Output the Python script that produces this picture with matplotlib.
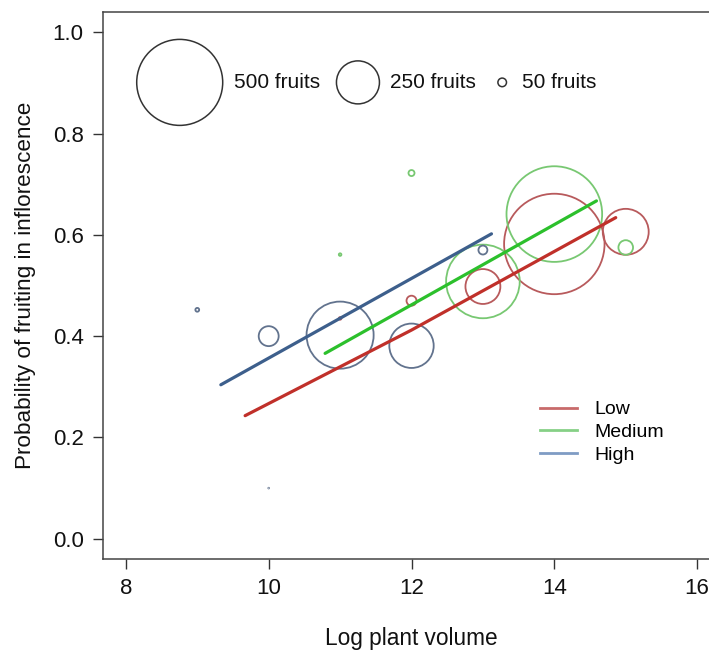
import matplotlib.pyplot as plt
import numpy as np

plt.rcParams['font.family'] = ['Liberation Sans', 'DejaVu Sans']

# fruit counts per plant-volume class, by infestation level
x_low = [11, 12, 13, 14, 15]
p_low = [0.435, 0.470, 0.498, 0.582, 0.606]
n_low = [15, 58, 203, 584, 267]

x_med = [11, 12, 13, 14, 15]
p_med = [0.561, 0.722, 0.508, 0.641, 0.575]
n_med = [15, 35, 428, 556, 85]

x_high = [9, 10, 10, 11, 12, 13]
p_high = [0.452, 0.100, 0.400, 0.402, 0.381, 0.570]
n_high = [22, 4, 116, 390, 258, 52]

# fitted curves
fit_low_x = [9.67, 12.0, 14.86]
fit_low_y = [0.243, 0.412, 0.634]
fit_med_x = [10.79, 14.59]
fit_med_y = [0.366, 0.667]
fit_high_x = [9.33, 13.12]
fit_high_y = [0.304, 0.602]

legend_counts = [500, 250, 50]
legend_labels = ['500 fruits', '250 fruits', '50 fruits']

DPI = 100
PX_PER_FRUIT = 0.086   # circle radius in pixels per fruit


def size_of(n):
    d_pt = 2 * PX_PER_FRUIT * np.asarray(n, dtype=float) * 72 / DPI
    return d_pt ** 2


fig = plt.figure(figsize=(7.09, 6.51), dpi=DPI)
ax = fig.add_axes([0.1453, 0.1413, 0.8702, 0.8403])

groups = [
    (x_low, p_low, n_low, fit_low_x, fit_low_y, '#b85a5c', '#c0302a', '#c86a6a', 'Low'),
    (x_med, p_med, n_med, fit_med_x, fit_med_y, '#78c872', '#2cc02c', '#86d086', 'Medium'),
    (x_high, p_high, n_high, fit_high_x, fit_high_y, '#62738e', '#3d5f8c', '#7f9cc4', 'High'),
]

for xs, ps, ns, fx, fy, ccol, lcol, legcol, lab in groups:
    ax.scatter(xs, ps, s=size_of(ns), facecolors='none', edgecolors=ccol,
               linewidths=1.3, zorder=2)
    ax.plot(fx, fy, color=lcol, lw=2.3, solid_capstyle='round', zorder=3)

# level legend
handles = [plt.Line2D([], [], color=g[7], lw=2) for g in groups]
ax.legend(handles, [g[8] for g in groups], loc='upper left',
          bbox_to_anchor=(0.692, 0.307), frameon=False, fontsize=14,
          handlelength=1.9, handletextpad=0.9, labelspacing=0.27,
          borderpad=0)

# size legend
leg_x = [8.754, 11.25, 13.27]
leg_tx = [9.52, 11.70, 13.55]
ax.scatter(leg_x, [0.901] * 3, s=size_of(legend_counts), facecolors='none',
           edgecolors='#333333', linewidths=1.1, zorder=2)
for tx, lab in zip(leg_tx, legend_labels):
    ax.text(tx, 0.901, lab, fontsize=15, va='center', ha='left', color='#111111')

ax.set_xlim(7.68, 16.32)
ax.set_ylim(-0.04, 1.04)
ax.set_xticks([8, 10, 12, 14, 16])
ax.set_yticks([0.0, 0.2, 0.4, 0.6, 0.8, 1.0])
ax.set_yticklabels(['0.0', '0.2', '0.4', '0.6', '0.8', '1.0'])
ax.tick_params(direction='out', length=7, width=1, labelsize=16, pad=7,
               color='#333333', labelcolor='#111111')
for sp in ax.spines.values():
    sp.set_color('#444444')
    sp.set_linewidth(1.1)

ax.set_xlabel('Log plant volume', fontsize=16.3, labelpad=20, color='#111111')
ax.set_ylabel('Probability of fruiting in inflorescence', fontsize=16.2,
              labelpad=12, color='#111111')

fig.savefig('out.png', dpi=DPI)
